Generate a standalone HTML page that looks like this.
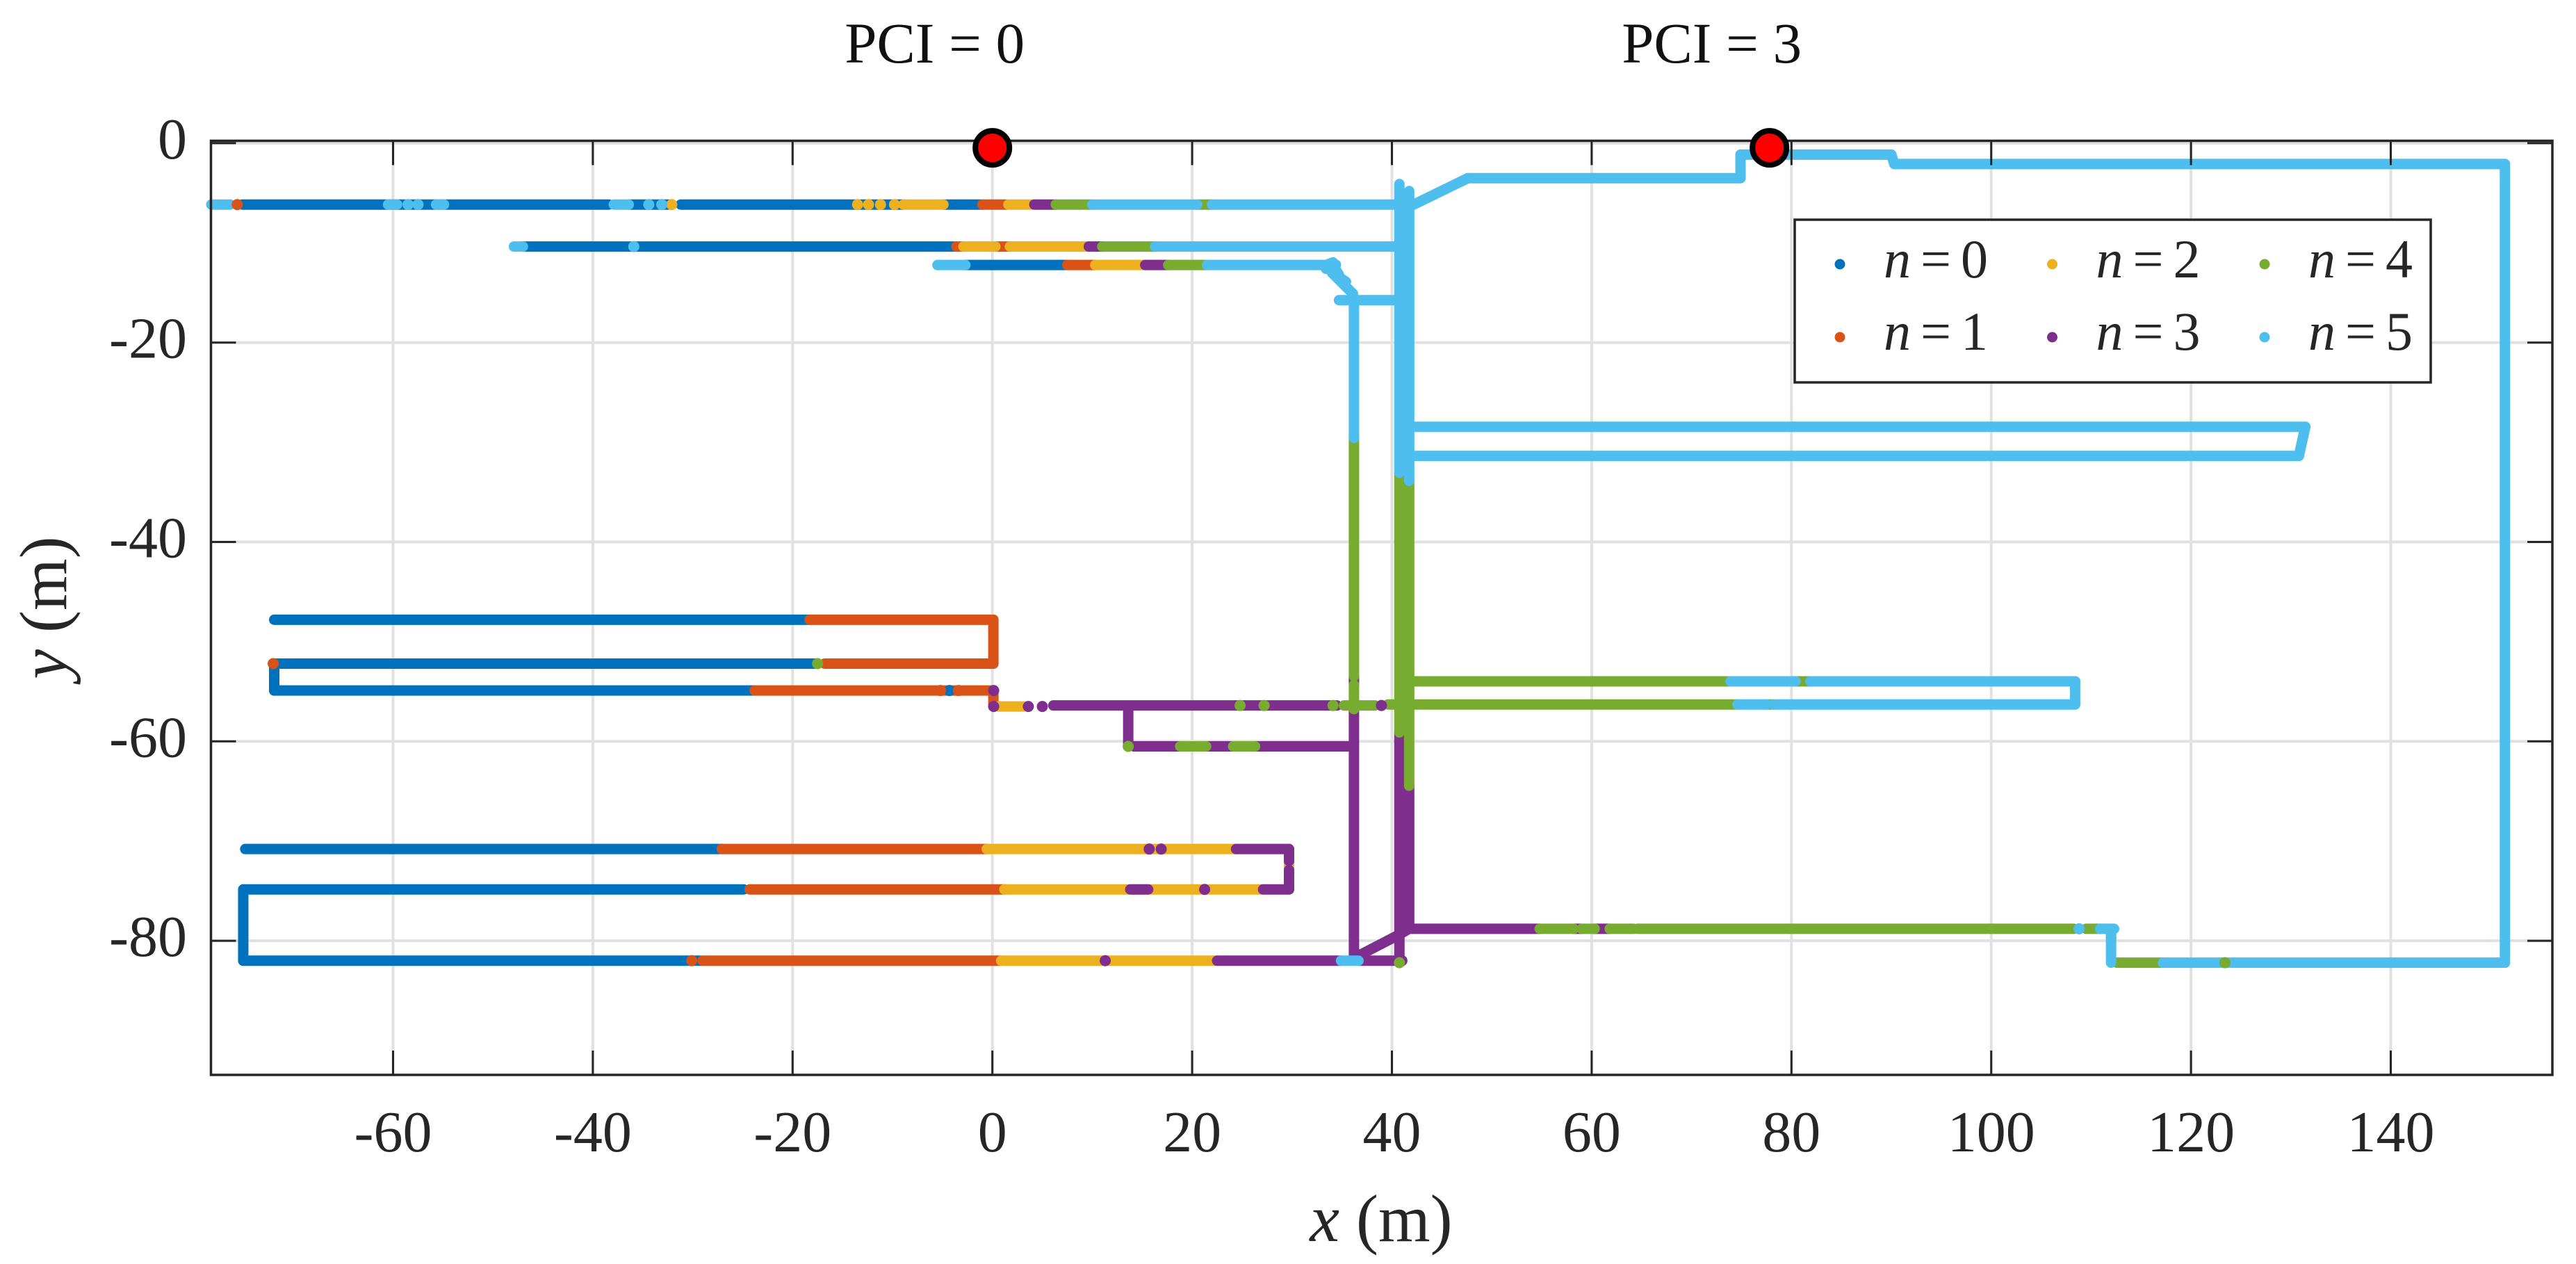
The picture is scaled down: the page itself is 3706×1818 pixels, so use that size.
<!DOCTYPE html>
<html lang="en">
<head>
<meta charset="utf-8">
<title>PCI position scatter</title>
<style>
html,body{margin:0;padding:0;background:#fff;}
svg{display:block;font-family:"Liberation Serif",serif;fill:#262626;}
</style>
</head>
<body>
<svg id="chart" xmlns="http://www.w3.org/2000/svg" width="3706" height="1818" viewBox="0 0 3706 1818">
  <rect x="0" y="0" width="3706" height="1818" fill="#ffffff"/>
  <g id="grid"></g>
  <g id="marks"></g>
  <g id="axes"></g>
  <text x="1987" y="1785" font-size="96" text-anchor="middle" fill="#262626"><tspan font-style="italic">x</tspan> (m)</text>
  <text transform="translate(95,874) rotate(-90)" font-size="96" text-anchor="middle" fill="#262626"><tspan font-style="italic">y</tspan> (m)</text>
  <g id="legend">
    <rect x="2582" y="316" width="915" height="234" fill="#ffffff" stroke="#262626" stroke-width="3.5"/>
  </g>
  <g id="stations"></g>
</svg>
<script>
// Axis scale, tick labels
const xTicks = [-60, -40, -20, 0, 20, 40, 60, 80, 100, 120, 140];
const yTicks = [0, -20, -40, -60, -80];
const legendLabels = ['0', '1', '2', '3', '4', '5'];
const seriesColors = ['#0072BD', '#D95319', '#EDB120', '#7E2F8E', '#77AC30', '#4DBEEE'];

// Base stations: [x (m), y (m), PCI]
const stations = [[0, -0.47, 0], [77.8, -0.47, 3]];

// Track runs per beam index n: [x1, y1, x2, y2] in metres
const runsN0 = [
  [-75.1,-6.16,-38.4,-6.16], [-36.4,-6.16,-32.4,-6.16], [-31.2,-6.16,-8.9,-6.16], [-4.9,-6.16,-1,-6.16],
  [-47,-10.37,-3.6,-10.37],
  [-2.7,-12.22,7.5,-12.22],
  [-71.9,-47.8,-18.3,-47.8],
  [-71.9,-52.2,-17.5,-52.2], [-71.9,-52.2,-71.9,-54.9], [-71.9,-54.9,-23.8,-54.9],
  [-74.8,-70.8,-27.1,-70.8],
  [-75,-74.85,-24.9,-74.85], [-75,-74.85,-75,-82], [-75,-82,-29.2,-82]
];
const runsN1 = [
  [-1,-6.16,1.45,-6.16],
  [-3.6,-10.37,-2.9,-10.37], [0.3,-10.37,1.75,-10.37],
  [7.5,-12.22,10.3,-12.22],
  [-18.3,-47.8,0.1,-47.8], [0.1,-47.8,0.1,-52.2], [0.1,-52.2,-16.8,-52.2],
  [-23.8,-54.9,0.1,-54.9], [0.1,-54.9,0.1,-56.5],
  [-27.1,-70.8,-0.56,-70.8],
  [-24.3,-74.85,1.2,-74.85],
  [-29,-82,0.88,-82]
];
const runsN2 = [
  [-8.9,-6.16,-4.9,-6.16], [1.6,-6.16,4.2,-6.16],
  [-2.9,-10.37,0.3,-10.37], [1.75,-10.37,9.65,-10.37],
  [10.3,-12.22,15.3,-12.22],
  [0.6,-56.5,3.2,-56.5],
  [-0.56,-70.8,15.3,-70.8], [15.3,-70.8,24.4,-70.8],
  [29.7,-72,29.7,-72.9],
  [1.2,-74.85,27.1,-74.85],
  [0.88,-82,22.5,-82]
];
const runsN3 = [
  [4.2,-6.16,6.35,-6.16],
  [9.65,-10.37,11,-10.37],
  [15.3,-12.22,17.6,-12.22],
  [6.1,-56.4,34.5,-56.4],
  [13.6,-57,13.6,-60.5], [14.15,-60.5,18.8,-60.5], [21.4,-60.5,35.8,-60.5],
  [36.2,-53.47,36.2,-54.33], [36.2,-56.77,36.2,-81.5],
  [24.4,-70.8,29.7,-70.8], [29.7,-70.8,29.7,-72], [29.7,-72.9,29.7,-74.85], [29.7,-74.85,27.1,-74.85],
  [13.8,-74.85,15.6,-74.85],
  [22.5,-82,34.9,-82], [36.65,-82,40.4,-82],
  [36.65,-81.5,40.7,-79.4], [40.7,-79.4,41.7,-78.8],
  [40.75,-59.1,40.75,-81.9], [41.73,-64.45,41.73,-78.8],
  [41.6,-78.8,54.8,-78.8], [58.2,-78.8,59,-78.8], [60.3,-78.8,61.8,-78.8]
];
const runsN4 = [
  [6.35,-6.16,10,-6.16], [20.5,-6.16,22,-6.16],
  [11,-10.37,16.3,-10.37],
  [17.6,-12.22,21.5,-12.22],
  [18.8,-60.5,21.4,-60.5], [24.1,-60.5,26.3,-60.5],
  [36.2,-29.57,36.2,-53.47], [36.2,-54.33,36.2,-56.77],
  [35.2,-56.4,38.3,-56.4], [39.6,-56.3,74.6,-56.3], [77.5,-56.3,78.2,-56.3],
  [41.85,-53.98,73.9,-53.98], [80.4,-53.98,81.9,-53.98],
  [40.75,-33.06,40.75,-59.1], [41.73,-33.87,41.73,-64.45],
  [54.8,-78.8,58.2,-78.8], [59,-78.8,60.3,-78.8], [61.8,-78.8,64.2,-78.8], [64.6,-78.8,108.25,-78.8], [109.5,-78.8,110.9,-78.8],
  [112,-79.4,112,-80],
  [112.6,-82.2,117.2,-82.2]
];
const runsN5 = [
  [-78.2,-6.16,-76.3,-6.16], [-60.5,-6.16,-59.6,-6.16], [-55.7,-6.16,-54.9,-6.16], [-37.9,-6.16,-36.4,-6.16], [10,-6.16,20.5,-6.16], [22,-6.16,40.4,-6.16],
  [-47.9,-10.37,-47,-10.37], [16.3,-10.37,40.4,-10.37],
  [-5.5,-12.22,-2.7,-12.22], [21.5,-12.22,33.5,-12.22],
  [33.2,-12.3,34.1,-11.96], [33.4,-12.6,34.4,-12.2], [34.2,-12.4,34.7,-13.2], [34.5,-13.3,35.4,-13.9], [34,-13,36.1,-15.1], [34.7,-15.75,40.3,-15.75],
  [36.2,-15.75,36.2,-29.57],
  [40.75,-4.1,40.75,-33.06], [41.73,-4.8,41.73,-33.87],
  [42.1,-6.2,47.6,-3.51], [47.6,-3.51,74.9,-3.51], [74.9,-3.51,74.9,-1.15], [74.9,-1.15,90,-1.15], [90,-1.15,90.3,-2.09], [90.3,-2.09,151.43,-2.09],
  [151.43,-2.09,151.43,-82.2],
  [42,-28.45,131.45,-28.45], [131.45,-28.45,130.8,-31.37], [130.8,-31.37,42,-31.37],
  [74.6,-56.3,77.5,-56.3], [78.2,-56.3,108.4,-56.3], [108.4,-56.3,108.4,-53.98], [108.4,-53.98,81.9,-53.98], [80.4,-53.98,73.9,-53.98],
  [110.9,-78.8,112.3,-78.8], [112,-78.8,112,-79.4], [112,-80,112,-82.2],
  [117.2,-82.2,151.43,-82.2],
  [34.9,-82,36.65,-82]
];
const allRuns = [runsN0, runsN1, runsN2, runsN3, runsN4, runsN5];

// Isolated samples per beam index n: [x, y] in metres
const dotsN0 = [[-4.3,-54.9]];
const dotsN1 = [[-75.6,-6.16], [-72,-52.2], [-30.1,-82], [-5.2,-54.9], [-3.4,-54.9]];
const dotsN2 = [[-32.1,-6.16], [-13.5,-6.16], [-12.4,-6.16], [-11.2,-6.16], [-9.8,-6.16]];
const dotsN3 = [[0.13,-54.9], [0.13,-56.5], [3.6,-56.5], [5,-56.5], [38.95,-56.4], [15.7,-70.8], [16.9,-70.8], [21.25,-74.85], [11.3,-82], [41,-82]];
const dotsN4 = [[-17.5,-52.2], [24.8,-56.4], [27.2,-56.4], [34.1,-56.4], [13.6,-60.5], [40.75,-82.2], [123.4,-82.2]];
const dotsN5 = [[-58.5,-6.16], [-57.5,-6.16], [-34.4,-6.16], [-33.1,-6.16], [-35.9,-10.37], [108.8,-78.8]];
const allDots = [dotsN0, dotsN1, dotsN2, dotsN3, dotsN4, dotsN5];

const NS = 'http://www.w3.org/2000/svg';
const plot = { left: 303.5, right: 3672, top: 202.5, bottom: 1546 };
function xScale(v) { return 1427.7 + 14.37 * v; }
function yScale(v) { return 205.9 - 14.34 * v; }
function make(tag, attrs, parent) {
  const el = document.createElementNS(NS, tag);
  Object.keys(attrs).forEach(function (k) { el.setAttribute(k, attrs[k]); });
  parent.appendChild(el);
  return el;
}
const gridG = document.getElementById('grid');
const axesG = document.getElementById('axes');
const marksG = document.getElementById('marks');
const legendG = document.getElementById('legend');
const stationsG = document.getElementById('stations');

// Grid and ticks
xTicks.forEach(function (t) {
  const px = xScale(t);
  const gl = make('line', { x1: px, x2: px, y1: plot.top, y2: plot.bottom, stroke: '#e1e1e1', 'stroke-width': 4 }, gridG);
  
  
  const tb = make('line', { x1: px, x2: px, y1: plot.bottom - 35, y2: plot.bottom, stroke: '#262626', 'stroke-width': 3 }, axesG);
  
  
  const tt = make('line', { x1: px, x2: px, y1: plot.top, y2: plot.top + 35, stroke: '#262626', 'stroke-width': 3 }, axesG);
  
  
  const lb = make('text', { x: px, y: 1656, 'font-size': 84, 'text-anchor': 'middle', fill: '#262626' }, axesG);
  
  
  lb.textContent = String(t);
});
yTicks.forEach(function (t) {
  const py = yScale(t);
  const gl = make('line', { x1: plot.left, x2: plot.right, y1: py, y2: py, stroke: '#e1e1e1', 'stroke-width': 4 }, gridG);
  
  
  const tl = make('line', { x1: plot.left, x2: plot.left + 36, y1: py, y2: py, stroke: '#262626', 'stroke-width': 3 }, axesG);
  
  
  const tr = make('line', { x1: plot.right - 36, x2: plot.right, y1: py, y2: py, stroke: '#262626', 'stroke-width': 3 }, axesG);
  
  
  const lb = make('text', { x: 269, y: py + 22, 'font-size': 84, 'text-anchor': 'end', fill: '#262626' }, axesG);
  
  
  lb.textContent = String(t);
});
const frame = make('rect', { x: plot.left, y: plot.top, width: plot.right - plot.left, height: plot.bottom - plot.top, fill: 'none', stroke: '#262626', 'stroke-width': 3.5 }, axesG);



// Track runs then isolated samples, lower n beneath higher n
allRuns.forEach(function (runs, n) {
  runs.forEach(function (r) {
    const seg = make('line', { x1: xScale(r[0]), y1: yScale(r[1]), x2: xScale(r[2]), y2: yScale(r[3]), stroke: seriesColors[n], 'stroke-width': 15, 'stroke-linecap': 'round' }, marksG);
    
    
  });
});
allDots.forEach(function (dots, n) {
  dots.forEach(function (d) {
    const dot = make('circle', { cx: xScale(d[0]), cy: yScale(d[1]), r: 8, fill: seriesColors[n] }, marksG);
    
    
  });
});

// Legend
legendLabels.forEach(function (label, i) {
  const col = Math.floor(i / 2);
  const row = i % 2;
  const mx = 2647 + col * 305.5;
  const my = 380 + row * 105;
  const mk = make('circle', { cx: mx, cy: my, r: 7.5, fill: seriesColors[i] }, legendG);
  
  
  const tx = make('text', { x: mx + 63, y: row === 0 ? 399 : 503, 'font-size': 78, fill: '#262626', 'word-spacing': -5.5 }, legendG);
  
  
  const ital = make('tspan', { 'font-style': 'italic' }, tx);
  ital.textContent = 'n';
  tx.appendChild(document.createTextNode(' = ' + label));
});

// Base stations
stations.forEach(function (s) {
  const px = xScale(s[0]);
  const c = make('circle', { cx: px, cy: yScale(s[1]), r: 24.5, fill: '#ff0000', stroke: '#000000', 'stroke-width': 8 }, stationsG);
  
  
  const t = make('text', { x: px - 83, y: 90, 'font-size': 83, 'text-anchor': 'middle', fill: '#111111' }, stationsG);
  
  
  t.textContent = 'PCI = ' + s[2];
});
</script>
</body>
</html>
